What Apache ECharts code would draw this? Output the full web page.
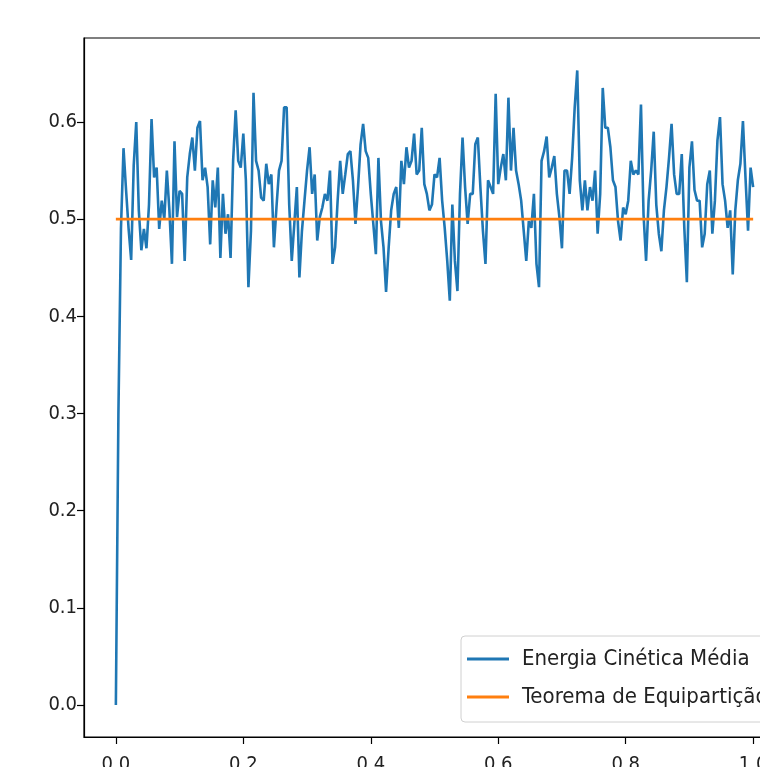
<!DOCTYPE html>
<html>
<head>
<meta charset="utf-8">
<script src="https://cdn.jsdelivr.net/npm/echarts@6/dist/echarts.min.js"></script>
<style>
  html, body { margin: 0; padding: 0; overflow: hidden; background: #fff; }
  #chart { width: 800px; height: 767px; }
</style>
</head>
<body>
<div id="chart"></div>
<script>
// passo de tempo da simulacao
var dt = 0.004
// energia cinetica media, um valor por passo
var energia = [
  0, 0.30, 0.49, 0.573, 0.53, 0.49, 0.458, 0.555, 0.60, 0.509,
  0.468, 0.49, 0.47, 0.515, 0.603, 0.543, 0.553, 0.49, 0.519, 0.50,
  0.55, 0.509, 0.454, 0.58, 0.502, 0.529, 0.526, 0.457, 0.543, 0.567,
  0.584, 0.55, 0.594, 0.601, 0.54, 0.553, 0.533, 0.474, 0.54, 0.512,
  0.553, 0.46, 0.526, 0.485, 0.505, 0.46, 0.56, 0.612, 0.56, 0.553,
  0.588, 0.54, 0.43, 0.488, 0.63, 0.56, 0.55, 0.522, 0.519, 0.557,
  0.536, 0.546, 0.471, 0.512, 0.55, 0.56, 0.615, 0.615, 0.515, 0.457,
  0.495, 0.533, 0.44, 0.488, 0.519, 0.55, 0.574, 0.526, 0.546, 0.478,
  0.502, 0.512, 0.526, 0.519, 0.55, 0.454, 0.471, 0.519, 0.56, 0.526,
  0.546, 0.567, 0.57, 0.54, 0.495, 0.533, 0.577, 0.598, 0.57, 0.563,
  0.526, 0.495, 0.464, 0.563, 0.498, 0.471, 0.425, 0.47, 0.509, 0.526,
  0.533, 0.491, 0.56, 0.536, 0.574, 0.553, 0.56, 0.588, 0.546, 0.55,
  0.594, 0.536, 0.526, 0.509, 0.515, 0.546, 0.543, 0.563, 0.519, 0.491,
  0.457, 0.416, 0.515, 0.457, 0.426, 0.526, 0.584, 0.533, 0.495, 0.526,
  0.526, 0.577, 0.584, 0.533, 0.488, 0.454, 0.54, 0.533, 0.526, 0.629,
  0.536, 0.553, 0.567, 0.54, 0.625, 0.55, 0.594, 0.55, 0.536, 0.519,
  0.488, 0.457, 0.498, 0.491, 0.526, 0.454, 0.43, 0.56, 0.57, 0.585,
  0.543, 0.553, 0.565, 0.526, 0.502, 0.47, 0.55, 0.55, 0.526, 0.563,
  0.615, 0.653, 0.54, 0.509, 0.54, 0.509, 0.533, 0.519, 0.55, 0.485,
  0.526, 0.635, 0.594, 0.594, 0.574, 0.54, 0.533, 0.498, 0.478, 0.512,
  0.505, 0.519, 0.56, 0.546, 0.55, 0.546, 0.618, 0.505, 0.457, 0.519,
  0.55, 0.59, 0.515, 0.485, 0.467, 0.509, 0.533, 0.563, 0.598, 0.546,
  0.526, 0.526, 0.567, 0.491, 0.435, 0.553, 0.58, 0.53, 0.519, 0.519,
  0.471, 0.485, 0.536, 0.55, 0.485, 0.519, 0.581, 0.605, 0.536, 0.519,
  0.491, 0.509, 0.443, 0.509, 0.54, 0.557, 0.601, 0.543, 0.488, 0.553,
  0.533
]
// teorema de equiparticao: valor constante nos extremos
var equipTempo = [0, 1]
var equipValor = [0.5, 0.5]
var xTicks = [0, 0.2, 0.4, 0.6, 0.8, 1.0]
var yTicks = [0, 0.1, 0.2, 0.3, 0.4, 0.5, 0.6]
var nomes = ['Energia Cinética Média', 'Teorema de Equipartição']

var fonte = '"DejaVu Sans Condensed", "DejaVu Sans", sans-serif'

var serieEnergia = energia.map(function(v, i) { return [i * dt, v] })
var serieEquip = equipTempo.map(function(t, i) { return [t, equipValor[i]] })

var chart = echarts.init(document.getElementById('chart'))
chart.setOption({
  animation: false,
  backgroundColor: '#fff',
  grid: {
    left: 84,
    top: 38,
    right: 15,
    bottom: 30,
    outerBoundsMode: 'none',
    containLabel: false,
    show: true,
    borderColor: '#000',
    borderWidth: 1.2,
    backgroundColor: '#fff'
  },
  xAxis: {
    type: 'value',
    min: -0.05,
    max: 1.05,
    splitLine: { show: false },
    axisLine: { onZero: false, lineStyle: { color: '#000', width: 1.2 } },
    axisTick: { show: true, length: 7, customValues: xTicks, lineStyle: { color: '#000', width: 1.2 } },
    axisLabel: {
      customValues: xTicks,
      margin: 18,
      color: '#222',
      fontFamily: fonte,
      fontSize: 20,
      formatter: function(v) { return v.toFixed(1) }
    }
  },
  yAxis: {
    type: 'value',
    min: -0.0329,
    max: 0.6864,
    splitLine: { show: false },
    axisLine: { show: true, onZero: false, lineStyle: { color: '#000', width: 1.2 } },
    axisTick: { show: true, length: 7, customValues: yTicks, lineStyle: { color: '#000', width: 1.2 } },
    axisLabel: {
      customValues: yTicks,
      margin: 7,
      color: '#222',
      fontFamily: fonte,
      fontSize: 20,
      formatter: function(v) { return v.toFixed(1) }
    }
  },
  legend: {
    orient: 'vertical',
    left: 461,
    top: 636,
    data: nomes,
    icon: 'rect',
    itemWidth: 42,
    itemHeight: 3,
    itemGap: 14,
    padding: [11, 40, 13, 6],
    backgroundColor: 'rgba(255,255,255,0.85)',
    borderColor: '#d0d0d0',
    borderWidth: 1,
    borderRadius: 4,
    textStyle: { fontFamily: fonte, fontSize: 22, lineHeight: 24, color: '#222', padding: [0, 0, 0, 8] }
  },
  series: [
    {
      name: nomes[0],
      type: 'line',
      data: serieEnergia,
      symbol: 'none',
      color: '#1f77b4',
      lineStyle: { color: '#1f77b4', width: 2.6 },
      z: 2
    },
    {
      name: nomes[1],
      type: 'line',
      data: serieEquip,
      symbol: 'none',
      color: '#ff7f0e',
      lineStyle: { color: '#ff7f0e', width: 2.6 },
      z: 3
    }
  ]
})
</script>
</body>
</html>
